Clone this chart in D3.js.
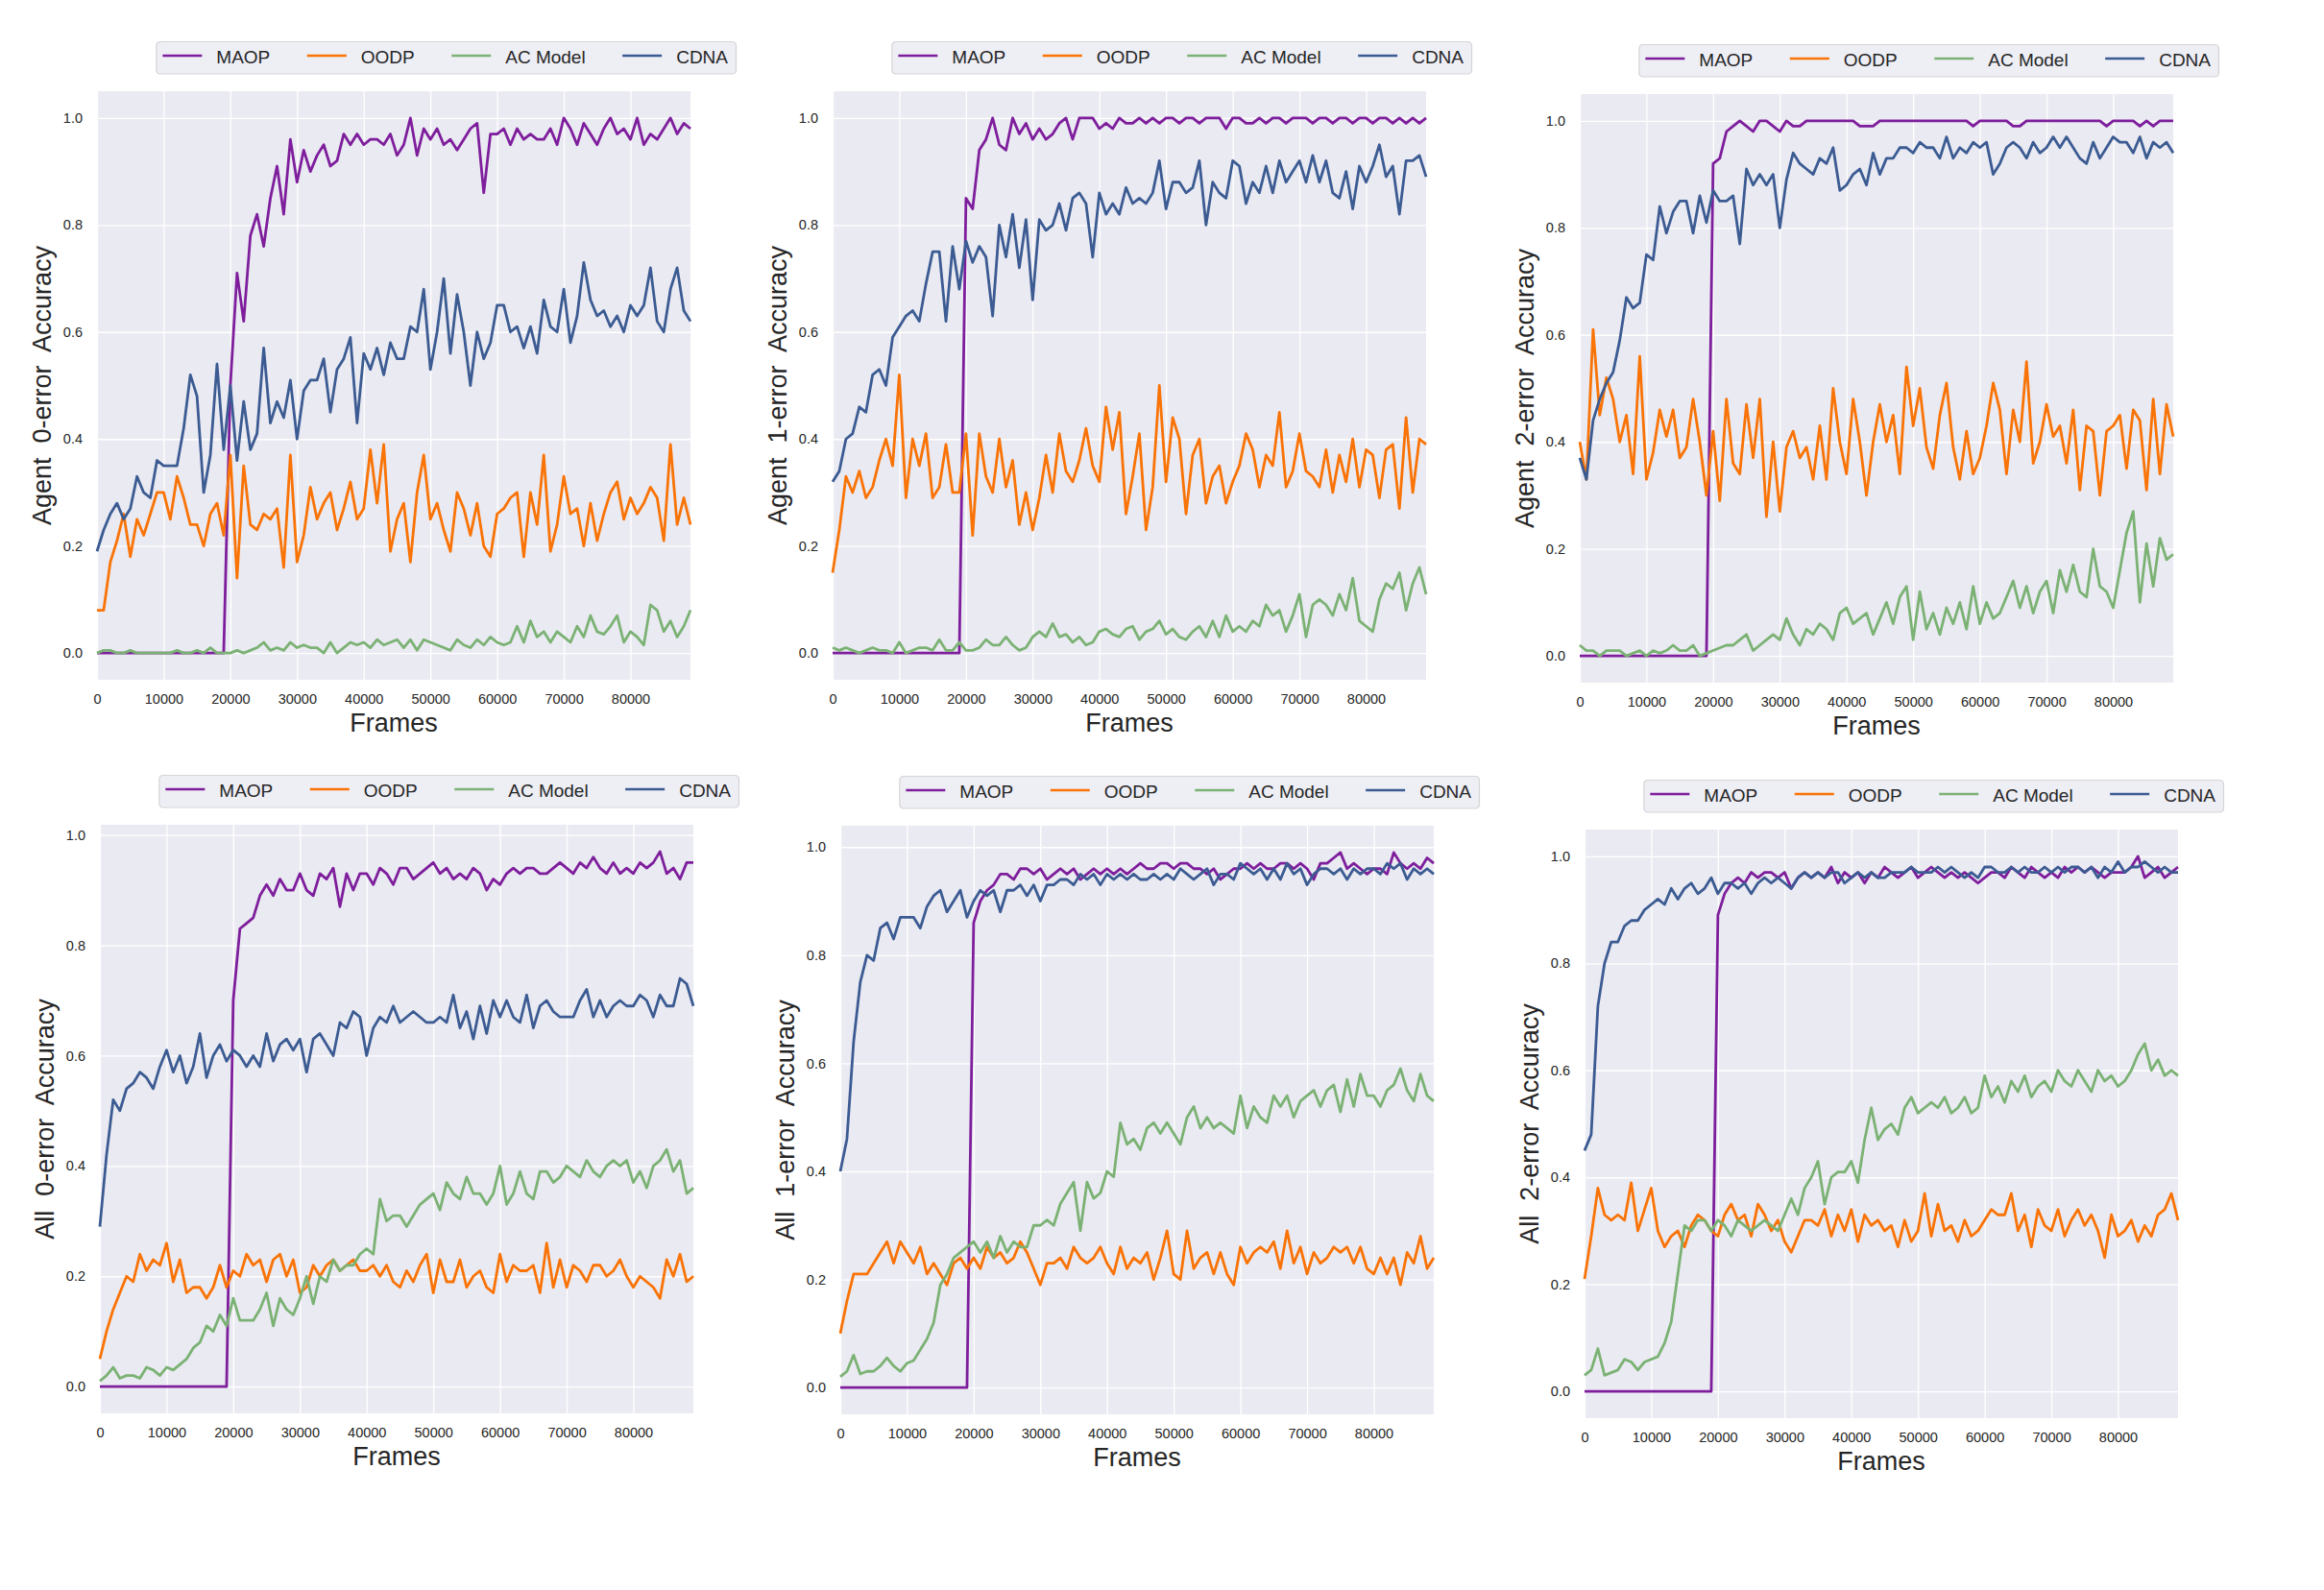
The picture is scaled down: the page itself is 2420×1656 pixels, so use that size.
<!DOCTYPE html>
<html>
<head>
<meta charset="utf-8">
<script src="https://cdn.jsdelivr.net/npm/d3@7"></script>
<style>
body{margin:0;background:#fff;}
svg text{font-family:"Liberation Sans",Arial,sans-serif;fill:#262626;}
</style>
</head>
<body>
<svg id="chart" width="2420" height="1656"></svg>
<script>
var seriesNames = ["MAOP", "OODP", "AC Model", "CDNA"];
var seriesColors = ["#7e1e9c", "#f97306", "#7bb274", "#3b5b92"];
var frames = d3.range(0, 90000, 1000);
var xTicks = [0, 10000, 20000, 30000, 40000, 50000, 60000, 70000, 80000];
var yTicks = [0, 0.2, 0.4, 0.6, 0.8, 1.0];

// Agent 0-error
var agent0Maop = [0,0,0,0,0,0,0,0,0,0,
  0,0,0,0,0,0,0,0,0,0,
  .50,.71,.62,.78,.82,.76,.85,.91,.82,.96,
  .88,.94,.90,.93,.95,.91,.92,.97,.95,.97,
  .95,.96,.96,.95,.97,.93,.95,1.0,.93,.98,
  .96,.98,.95,.96,.94,.96,.98,.99,.86,.97,
  .97,.98,.95,.98,.96,.97,.96,.96,.98,.95,
  1.0,.98,.95,.99,.97,.95,.98,1.0,.97,.98,
  .96,1.0,.95,.97,.96,.98,1.0,.97,.99,.98];
var agent0Oodp = [.08,.08,.17,.21,.26,.18,.25,.22,.26,.30,
  .30,.25,.33,.29,.24,.24,.20,.26,.28,.22,
  .37,.14,.35,.24,.23,.26,.25,.27,.16,.37,
  .17,.22,.31,.25,.28,.30,.23,.27,.32,.25,
  .27,.38,.28,.39,.19,.25,.28,.17,.30,.37,
  .25,.28,.23,.19,.30,.27,.22,.28,.20,.18,
  .26,.27,.29,.30,.18,.30,.24,.37,.19,.24,
  .33,.26,.27,.20,.28,.21,.26,.30,.32,.25,
  .29,.26,.28,.31,.29,.21,.39,.24,.29,.24];
var agent0Ac = [0,.005,.005,0,0,.005,0,0,0,0,
  0,0,.005,0,0,.005,0,.01,0,0,
  0,.005,0,.005,.01,.02,.005,.01,.005,.02,
  .01,.015,.01,.01,0,.02,0,.01,.02,.015,
  .02,.01,.025,.015,.02,.025,.01,.025,.005,.025,
  .02,.015,.01,.005,.025,.015,.01,.025,.015,.03,
  .02,.015,.02,.05,.02,.06,.03,.04,.02,.04,
  .03,.02,.05,.03,.07,.04,.035,.05,.07,.02,
  .04,.03,.015,.09,.08,.04,.06,.03,.05,.08];
var agent0Cdna = [.19,.23,.26,.28,.25,.27,.33,.30,.29,.36,
  .35,.35,.35,.42,.52,.48,.30,.37,.54,.38,
  .50,.36,.47,.38,.41,.57,.43,.47,.44,.51,
  .40,.49,.51,.51,.55,.45,.53,.55,.59,.43,
  .56,.53,.57,.52,.58,.55,.55,.61,.60,.68,
  .53,.60,.70,.56,.67,.60,.50,.60,.55,.58,
  .65,.65,.60,.61,.57,.61,.56,.66,.61,.60,
  .68,.58,.63,.73,.66,.63,.64,.61,.63,.60,
  .65,.63,.65,.72,.62,.60,.68,.72,.64,.62];

// Agent 1-error
var agent1Maop = [0,0,0,0,0,0,0,0,0,0,
  0,0,0,0,0,0,0,0,0,0,
  .85,.83,.94,.96,1.0,.95,.94,1.0,.97,.99,
  .96,.98,.96,.97,.99,1.0,.96,1.0,1.0,1.0,
  .98,.99,.98,1.0,.99,.99,1.0,.99,1.0,.99,
  1.0,1.0,.99,1.0,1.0,.99,1.0,1.0,1.0,.98,
  1.0,1.0,.99,.99,1.0,.99,1.0,1.0,.99,1.0,
  1.0,1.0,.99,1.0,1.0,.99,1.0,1.0,.99,1.0,
  1.0,.99,1.0,1.0,.99,1.0,.99,1.0,.99,1.0];
var agent1Oodp = [.15,.23,.33,.30,.34,.29,.31,.36,.40,.35,
  .52,.29,.40,.35,.41,.29,.31,.39,.30,.30,
  .41,.22,.41,.33,.30,.40,.31,.36,.24,.30,
  .23,.29,.37,.30,.41,.34,.32,.36,.42,.35,
  .32,.46,.38,.45,.26,.33,.41,.23,.31,.50,
  .32,.44,.40,.26,.37,.40,.28,.33,.35,.28,
  .32,.35,.41,.38,.31,.37,.35,.45,.31,.34,
  .41,.34,.33,.31,.38,.30,.37,.32,.40,.31,
  .38,.37,.29,.38,.39,.27,.44,.30,.40,.39];
var agent1Ac = [.01,.005,.01,.005,0,.005,.01,.005,.005,0,
  .02,0,.005,.01,.01,.005,.025,.005,.005,.02,
  .005,.005,.01,.025,.015,.015,.03,.015,.005,.01,
  .03,.04,.03,.055,.03,.035,.02,.03,.015,.02,
  .04,.045,.035,.03,.045,.05,.025,.04,.045,.06,
  .035,.045,.03,.025,.04,.05,.03,.06,.03,.07,
  .04,.05,.04,.06,.05,.09,.07,.08,.04,.07,
  .11,.03,.09,.10,.09,.07,.11,.08,.14,.06,
  .05,.04,.10,.13,.12,.15,.08,.13,.16,.11];
var agent1Cdna = [.32,.34,.40,.41,.46,.45,.52,.53,.50,.59,
  .61,.63,.64,.62,.69,.75,.75,.62,.76,.68,
  .77,.73,.76,.74,.63,.80,.74,.82,.72,.81,
  .66,.81,.79,.80,.84,.79,.85,.86,.84,.74,
  .86,.82,.84,.82,.87,.84,.85,.84,.86,.92,
  .83,.88,.88,.86,.87,.92,.80,.88,.86,.85,
  .92,.91,.84,.88,.86,.91,.86,.92,.88,.90,
  .92,.88,.93,.88,.92,.86,.85,.90,.83,.91,
  .88,.91,.95,.89,.91,.82,.92,.92,.93,.89];

// Agent 2-error
var agent2Maop = [0,0,0,0,0,0,0,0,0,0,
  0,0,0,0,0,0,0,0,0,0,
  .92,.93,.98,.99,1.0,.99,.98,1.0,1.0,.99,
  .98,1.0,.99,.99,1.0,1.0,1.0,1.0,1.0,1.0,
  1.0,1.0,.99,.99,.99,1.0,1.0,1.0,1.0,1.0,
  1.0,1.0,1.0,1.0,1.0,1.0,1.0,1.0,1.0,.99,
  1.0,1.0,1.0,1.0,1.0,.99,.99,1.0,1.0,1.0,
  1.0,1.0,1.0,1.0,1.0,1.0,1.0,1.0,1.0,.99,
  1.0,1.0,1.0,1.0,.99,1.0,.99,1.0,1.0,1.0];
var agent2Oodp = [.40,.33,.61,.45,.52,.48,.40,.45,.34,.56,
  .33,.38,.46,.41,.46,.37,.39,.48,.40,.30,
  .42,.29,.48,.36,.34,.47,.37,.48,.26,.40,
  .27,.39,.42,.37,.39,.33,.43,.33,.50,.40,
  .34,.48,.40,.30,.40,.47,.40,.45,.34,.54,
  .43,.50,.39,.35,.45,.51,.39,.33,.42,.34,
  .37,.43,.51,.46,.34,.46,.40,.55,.36,.40,
  .47,.41,.43,.36,.46,.31,.43,.42,.30,.42,
  .43,.45,.35,.46,.44,.31,.48,.34,.47,.41];
var agent2Ac = [.02,.01,.01,0,.01,.01,.01,0,.005,.01,
  0,.01,.005,.01,.02,.01,.01,.02,0,.005,
  .01,.015,.02,.02,.03,.04,.01,.02,.03,.04,
  .03,.07,.04,.02,.05,.04,.06,.05,.03,.08,
  .09,.06,.07,.08,.04,.07,.10,.06,.11,.13,
  .03,.12,.05,.08,.04,.09,.06,.10,.05,.13,
  .06,.10,.07,.08,.11,.14,.09,.13,.08,.12,
  .14,.08,.16,.12,.17,.12,.11,.20,.13,.12,
  .09,.16,.23,.27,.10,.21,.13,.22,.18,.19];
var agent2Cdna = [.37,.33,.44,.48,.51,.53,.59,.67,.65,.66,
  .75,.74,.84,.79,.83,.85,.85,.79,.86,.81,
  .87,.85,.85,.86,.77,.91,.88,.90,.88,.90,
  .80,.89,.94,.92,.91,.90,.93,.92,.95,.87,
  .88,.90,.91,.88,.94,.90,.93,.93,.95,.95,
  .94,.96,.95,.95,.93,.97,.93,.95,.94,.96,
  .95,.96,.90,.92,.95,.96,.95,.93,.96,.94,
  .95,.97,.95,.97,.95,.93,.92,.96,.93,.95,
  .97,.96,.96,.94,.97,.93,.96,.95,.96,.94];

// All 0-error
var all0Maop = [0,0,0,0,0,0,0,0,0,0,
  0,0,0,0,0,0,0,0,0,0,
  .70,.83,.84,.85,.89,.91,.89,.92,.90,.90,
  .93,.90,.89,.93,.92,.94,.87,.93,.90,.93,
  .93,.91,.94,.93,.91,.94,.94,.92,.93,.94,
  .95,.93,.94,.92,.93,.92,.94,.93,.90,.92,
  .91,.93,.94,.93,.94,.94,.93,.93,.94,.95,
  .94,.93,.95,.94,.96,.94,.93,.95,.93,.94,
  .93,.95,.94,.95,.97,.93,.94,.92,.95,.95];
var all0Oodp = [.05,.10,.14,.17,.20,.19,.24,.21,.23,.22,
  .26,.19,.23,.17,.18,.18,.16,.18,.22,.18,
  .21,.20,.24,.22,.23,.19,.23,.24,.20,.23,
  .17,.18,.22,.20,.22,.23,.21,.22,.23,.21,
  .21,.22,.20,.22,.19,.18,.21,.19,.22,.24,
  .17,.23,.19,.19,.23,.18,.20,.21,.18,.17,
  .24,.19,.22,.21,.21,.22,.17,.26,.18,.23,
  .18,.22,.21,.19,.22,.22,.20,.21,.23,.20,
  .18,.20,.19,.18,.16,.23,.20,.24,.19,.20];
var all0Ac = [.01,.02,.035,.015,.02,.02,.015,.035,.03,.02,
  .035,.03,.04,.05,.07,.08,.11,.10,.13,.11,
  .16,.12,.12,.12,.14,.17,.11,.16,.14,.13,
  .16,.20,.15,.20,.19,.23,.21,.22,.22,.24,
  .25,.24,.34,.30,.31,.31,.29,.31,.33,.34,
  .35,.32,.37,.35,.34,.38,.35,.35,.33,.35,
  .40,.33,.35,.39,.35,.34,.39,.39,.37,.38,
  .40,.39,.38,.41,.39,.38,.40,.41,.40,.41,
  .37,.39,.36,.40,.41,.43,.39,.41,.35,.36];
var all0Cdna = [.29,.42,.52,.50,.54,.55,.57,.56,.54,.58,
  .61,.57,.60,.55,.58,.64,.56,.60,.62,.59,
  .61,.60,.58,.60,.58,.64,.59,.62,.63,.61,
  .63,.57,.63,.64,.62,.60,.66,.65,.68,.67,
  .60,.65,.67,.66,.69,.66,.67,.68,.67,.66,
  .66,.67,.66,.71,.65,.68,.63,.69,.64,.70,
  .67,.70,.67,.66,.71,.65,.69,.70,.68,.67,
  .67,.67,.70,.72,.67,.70,.67,.69,.70,.69,
  .69,.71,.70,.67,.71,.69,.69,.74,.73,.69];

// All 1-error
var all1Maop = [0,0,0,0,0,0,0,0,0,0,
  0,0,0,0,0,0,0,0,0,0,
  .86,.90,.92,.93,.95,.95,.94,.96,.96,.95,
  .96,.94,.95,.96,.95,.96,.94,.95,.96,.95,
  .96,.95,.96,.95,.96,.97,.96,.96,.97,.97,
  .96,.97,.97,.96,.96,.95,.96,.94,.95,.96,
  .96,.97,.96,.97,.96,.96,.97,.97,.96,.97,
  .96,.94,.97,.97,.98,.99,.96,.97,.96,.95,
  .96,.96,.95,.99,.97,.96,.97,.96,.98,.97];
var all1Oodp = [.10,.16,.21,.21,.21,.23,.25,.27,.23,.27,
  .25,.23,.26,.21,.23,.21,.19,.23,.24,.22,
  .24,.22,.26,.24,.25,.23,.24,.27,.25,.22,
  .19,.23,.23,.24,.22,.26,.24,.23,.24,.26,
  .23,.21,.26,.22,.24,.23,.25,.20,.24,.29,
  .21,.20,.29,.22,.24,.25,.21,.25,.21,.19,
  .26,.23,.25,.26,.25,.27,.22,.29,.23,.26,
  .21,.25,.23,.24,.26,.25,.26,.23,.26,.22,
  .21,.24,.21,.24,.19,.25,.23,.28,.22,.24];
var all1Ac = [.02,.03,.06,.025,.03,.03,.04,.055,.04,.03,
  .045,.05,.07,.09,.12,.19,.21,.24,.25,.26,
  .27,.25,.27,.24,.28,.25,.27,.26,.26,.30,
  .30,.31,.30,.34,.36,.38,.29,.38,.35,.36,
  .40,.39,.49,.45,.46,.44,.48,.49,.47,.49,
  .47,.45,.50,.52,.48,.50,.48,.49,.48,.47,
  .54,.48,.52,.50,.49,.54,.52,.54,.50,.53,
  .54,.55,.52,.55,.56,.51,.57,.52,.58,.54,
  .54,.52,.55,.56,.59,.55,.53,.58,.54,.53];
var all1Cdna = [.40,.46,.64,.75,.80,.79,.85,.86,.83,.87,
  .87,.87,.85,.89,.91,.92,.88,.90,.92,.87,
  .90,.92,.91,.92,.88,.92,.92,.93,.91,.93,
  .90,.93,.93,.94,.94,.93,.95,.94,.95,.93,
  .95,.94,.95,.94,.95,.94,.94,.95,.94,.95,
  .94,.96,.95,.94,.95,.96,.93,.95,.95,.94,
  .97,.96,.95,.96,.94,.96,.94,.97,.95,.96,
  .93,.95,.96,.96,.95,.96,.94,.96,.95,.96,
  .96,.95,.97,.96,.97,.94,.96,.95,.96,.95];

// All 2-error
var all2Maop = [0,0,0,0,0,0,0,0,0,0,
  0,0,0,0,0,0,0,0,0,0,
  .89,.93,.95,.96,.95,.97,.96,.97,.97,.96,
  .97,.94,.96,.97,.96,.97,.96,.98,.95,.97,
  .96,.97,.95,.97,.96,.98,.97,.96,.97,.98,
  .96,.97,.98,.97,.96,.97,.96,.97,.96,.95,
  .96,.97,.97,.96,.98,.97,.96,.98,.97,.96,
  .97,.96,.98,.97,.98,.97,.98,.97,.96,.97,
  .97,.97,.98,1.0,.96,.97,.98,.96,.97,.98];
var all2Oodp = [.21,.29,.38,.33,.32,.33,.32,.39,.30,.34,
  .38,.30,.27,.29,.30,.27,.31,.33,.32,.30,
  .29,.33,.35,.32,.33,.29,.35,.33,.30,.32,
  .28,.26,.29,.32,.32,.31,.34,.29,.33,.30,
  .34,.28,.33,.31,.32,.30,.31,.27,.32,.28,
  .30,.37,.29,.35,.30,.31,.28,.32,.29,.30,
  .32,.34,.33,.33,.37,.30,.33,.27,.34,.31,
  .30,.34,.29,.32,.34,.31,.33,.30,.25,.33,
  .29,.30,.32,.28,.31,.29,.33,.34,.37,.32];
var all2Ac = [.03,.04,.08,.03,.035,.04,.06,.055,.04,.055,
  .06,.065,.09,.13,.22,.31,.30,.32,.32,.30,
  .32,.31,.29,.32,.31,.30,.31,.32,.31,.30,
  .33,.36,.33,.38,.40,.43,.35,.40,.41,.41,
  .43,.39,.47,.53,.47,.49,.50,.48,.53,.55,
  .52,.53,.54,.53,.55,.52,.53,.55,.52,.53,
  .59,.55,.57,.54,.58,.56,.59,.55,.57,.58,
  .56,.60,.58,.57,.60,.58,.56,.60,.58,.59,
  .57,.58,.60,.63,.65,.60,.62,.59,.60,.59];
var all2Cdna = [.45,.48,.72,.80,.84,.84,.87,.88,.88,.90,
  .91,.92,.91,.94,.92,.94,.95,.93,.94,.96,
  .93,.95,.95,.94,.95,.93,.95,.96,.95,.96,
  .95,.94,.96,.97,.96,.97,.96,.97,.97,.95,
  .96,.97,.96,.97,.96,.96,.97,.97,.97,.98,
  .97,.97,.97,.98,.97,.98,.97,.96,.97,.96,
  .98,.98,.97,.97,.98,.97,.98,.97,.97,.98,
  .97,.98,.97,.98,.98,.97,.98,.96,.98,.97,
  .99,.97,.98,.98,.99,.98,.97,.98,.97,.97];

var panels = [
  {label: "Agent  0-error  Accuracy", series: [agent0Maop, agent0Oodp, agent0Ac, agent0Cdna]},
  {label: "Agent  1-error  Accuracy", series: [agent1Maop, agent1Oodp, agent1Ac, agent1Cdna]},
  {label: "Agent  2-error  Accuracy", series: [agent2Maop, agent2Oodp, agent2Ac, agent2Cdna]},
  {label: "All  0-error  Accuracy", series: [all0Maop, all0Oodp, all0Ac, all0Cdna]},
  {label: "All  1-error  Accuracy", series: [all1Maop, all1Oodp, all1Ac, all1Cdna]},
  {label: "All  2-error  Accuracy", series: [all2Maop, all2Oodp, all2Ac, all2Cdna]}
];

// plot-area origin of each subplot
var layout = [
  {x: 101, y: 95}, {x: 867, y: 95}, {x: 1645, y: 98},
  {x: 104, y: 859}, {x: 875, y: 860}, {x: 1650, y: 864}
];
var plotW = 618, plotH = 613;

var svg = d3.select("#chart");

var drawLegend = function(g){
    var leg = g.append("g");
    var box = leg.append("rect");
    var items = [];
    seriesNames.forEach(function(name, i){
        var it = leg.append("g");
        it.append("line").attr("x1", 0).attr("x2", 41).attr("y1", 15).attr("y2", 15)
            .attr("stroke", seriesColors[i]).attr("stroke-width", 2.4);
        var t = it.append("text").attr("x", 56).attr("y", 22.6)
            .style("font-size", "19px").text(name);
        items.push({g: it, w: t.node().getComputedTextLength()});
    });
    var cx = 7;
    items.forEach(function(it, i){
        it.g.attr("transform", "translate(" + cx + ",0)");
        cx += 56 + it.w + (i < items.length - 1 ? 38.5 : 9);
    });
    var left = plotW + 48 - cx;
    leg.attr("transform", "translate(" + left + "," + (-52) + ")");
    box.attr("x", 0.5).attr("y", 0.5).attr("width", cx - 1).attr("height", 33.5)
        .attr("rx", 4).attr("fill", "#eaeaf2").attr("fill-opacity", 0.8)
        .attr("stroke", "#cccccc").attr("stroke-opacity", 0.8).attr("stroke-width", 1.2);
};

panels.forEach(function(p, k){
    var pos = layout[k];
    var g = svg.append("g").attr("transform", "translate(" + pos.x + "," + pos.y + ")");

    var x = d3.scaleLinear().domain([0, 89000]).range([0, plotW]);
    var ext = d3.extent(d3.merge(p.series));
    var pad = (ext[1] - ext[0]) * 0.05;
    var y = d3.scaleLinear().domain([ext[0] - pad, ext[1] + pad]).range([plotH, 0]);

    g.append("rect").attr("width", plotW).attr("height", plotH).attr("fill", "#eaeaf2");

    var gx = g.append("g").attr("transform", "translate(0," + plotH + ")")
        .call(d3.axisBottom(x).tickValues(xTicks).tickSize(-plotH).tickFormat(""));
    var gy = g.append("g")
        .call(d3.axisLeft(y).tickValues(yTicks).tickSize(-plotW).tickFormat(""));
    [gx, gy].forEach(function(a){
        a.select(".domain").remove();
        a.selectAll("line").attr("stroke", "#fff").attr("stroke-width", 1.3);
    });

    var line = d3.line()
        .x(function(d, i){ return x(frames[i]); })
        .y(function(d){ return y(d); });
    p.series.forEach(function(s, i){
        g.append("path").datum(s).attr("d", line)
            .attr("fill", "none").attr("stroke", seriesColors[i])
            .attr("stroke-width", 2.8).attr("stroke-linejoin", "round");
    });

    var ax = g.append("g").attr("transform", "translate(0," + plotH + ")")
        .call(d3.axisBottom(x).tickValues(xTicks).tickSize(0).tickPadding(14.7).tickFormat(d3.format("d")));
    var ay = g.append("g")
        .call(d3.axisLeft(y).tickValues(yTicks).tickSize(0).tickPadding(15).tickFormat(d3.format(".1f")));
    [ax, ay].forEach(function(a){
        a.select(".domain").remove();
        a.selectAll("text").style("font-size", "14.5px").attr("fill", "#262626")
            .style("font-family", "'Liberation Sans', Arial, sans-serif");
    });

    g.append("text").attr("x", plotW / 2).attr("y", plotH + 54)
        .attr("text-anchor", "middle").style("font-size", "27px").text("Frames");
    g.append("text")
        .attr("transform", "translate(-57," + (plotH / 2) + ") rotate(-90)")
        .attr("text-anchor", "middle").attr("dy", "0.35em")
        .style("font-size", "27px").style("white-space", "pre").text(p.label);

    drawLegend(g);
});
</script>
</body>
</html>
